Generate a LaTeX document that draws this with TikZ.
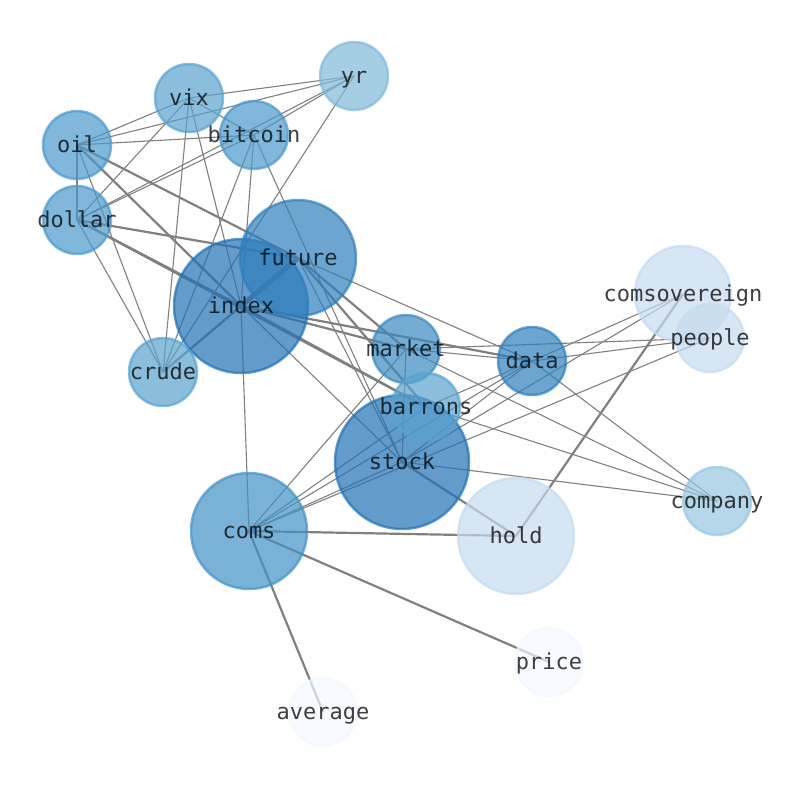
\documentclass[tikz,border=0pt]{standalone}
\usepackage{fontspec}
\setmonofont{DejaVu Sans Mono}
\pgfdeclarelayer{background}
\pgfdeclarelayer{foreground}
\pgfsetlayers{background,main,foreground}
\definecolor{ca}{HTML}{2171B5}
\definecolor{cb}{HTML}{2F7FBD}
\definecolor{cc}{HTML}{3A89C2}
\definecolor{cd}{HTML}{4292C6}
\definecolor{ce}{HTML}{4B98CA}
\definecolor{cf}{HTML}{5AA2CF}
\definecolor{cg}{HTML}{7FB9DA}
\definecolor{ch}{HTML}{97C6DF}
\definecolor{ci}{HTML}{C6DBEF}
\definecolor{cj}{HTML}{F3F8FE}
\definecolor{edgegray}{RGB}{128,128,128}
\tikzset{
  vtx/.style 2 args={circle, inner sep=0pt, minimum size=#1, fill=#2, draw=#2, fill opacity=0.7, draw opacity=0.7, line width=2.5pt},
  lbl/.style={inner sep=0pt, yshift=-2pt, text height=16pt, text depth=5pt, font=\ttfamily\fontsize{22}{26}\selectfont, text=black, text opacity=0.75},
  thin/.style={draw=edgegray, line width=1.1pt},
  mid/.style={draw=edgegray, line width=2.2pt},
  vthick/.style={draw=edgegray, line width=5pt},
}
\begin{document}
\begin{tikzpicture}[x=1pt,y=-1pt]
\useasboundingbox (0,0) rectangle (794,790);
% nodes
\node[vtx={134pt}{ca}] (index) at (241,306) {};
\node[vtx={134pt}{ca}] (stock) at (402,462) {};
\node[vtx={116pt}{cb}] (future) at (298,258) {};
\node[vtx={68pt}{cb}] (data) at (532,361) {};
\node[vtx={68pt}{cc}] (market) at (406,349) {};
\node[vtx={116pt}{cd}] (coms) at (249,531) {};
\node[vtx={68pt}{ce}] (oil) at (77,145) {};
\node[vtx={68pt}{ce}] (dollar) at (77,220) {};
\node[vtx={68pt}{ce}] (bitcoin) at (254,135) {};
\node[vtx={68pt}{cf}] (vix) at (189,98) {};
\node[vtx={68pt}{cf}] (crude) at (163,372) {};
\node[vtx={68pt}{cf}] (barrons) at (426,407) {};
\node[vtx={68pt}{cg}] (yr) at (354,76) {};
\node[vtx={68pt}{ch}] (company) at (717,501) {};
\node[vtx={96pt}{ci}] (comsovereign) at (683,294) {};
\node[vtx={68pt}{ci}] (people) at (710,338) {};
\node[vtx={116pt}{ci}] (hold) at (516,536) {};
\node[vtx={68pt}{cj}] (price) at (549,662) {};
\node[vtx={68pt}{cj}] (average) at (323,712) {};
% edges
\begin{pgfonlayer}{background}
\foreach \a/\b in {oil/vix, oil/yr, oil/bitcoin, oil/dollar, oil/crude,
  vix/yr, vix/bitcoin, vix/dollar, vix/crude, vix/index,
  yr/bitcoin, yr/dollar, yr/crude,
  bitcoin/dollar, bitcoin/crude, bitcoin/index, bitcoin/stock,
  dollar/crude,
  index/coms, index/stock,
  future/data, future/stock,
  market/data, market/people, market/company, market/stock, market/coms,
  data/comsovereign, data/people, data/company, data/stock, data/coms, data/barrons,
  barrons/company, barrons/coms,
  stock/company, stock/coms, stock/comsovereign,
  coms/people}
  \draw[thin] (\a.center) -- (\b.center);
\foreach \a/\b in {oil/index, oil/future, dollar/future, dollar/index, dollar/barrons,
  crude/future, index/barrons, future/market, future/barrons, index/market, index/data,
  stock/hold, coms/hold, coms/price, coms/average, hold/comsovereign}
  \draw[mid] (\a.center) -- (\b.center);
\draw[vthick] (index.center) -- (future.center);
\end{pgfonlayer}
% labels
\begin{pgfonlayer}{foreground}
\foreach \n in {index, stock, future, data, market, coms, oil, dollar, bitcoin, vix, crude, barrons, yr, company, comsovereign, people, hold, price, average}
  \node[lbl] (\n-t) at (\n.center) {\n};
\end{pgfonlayer}
\end{tikzpicture}
\end{document}
